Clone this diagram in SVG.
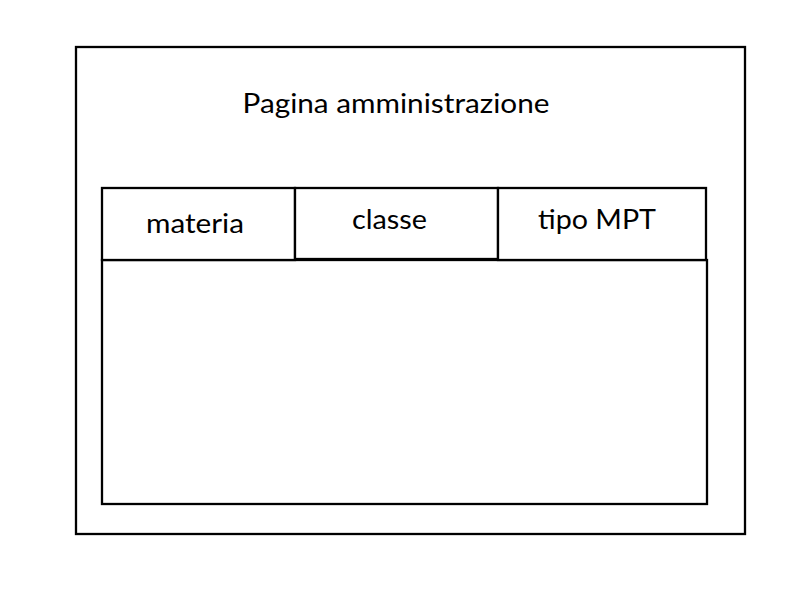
<svg xmlns="http://www.w3.org/2000/svg" width="800" height="600" viewBox="0 0 800 600">
  <style>
    .box { fill: #ffffff; stroke: #000000; stroke-width: 2.3; }
    .label { font-family: Lato, "Open Sans", "Liberation Sans", sans-serif; font-size: 27px; fill: #000000; text-anchor: middle; }
  </style>
  <rect x="0" y="0" width="800" height="600" fill="#ffffff"/>
  <g id="page">
    <rect class="box" x="76" y="47" width="669" height="487"/>
    <text class="label" x="396" y="113" textLength="307" lengthAdjust="spacingAndGlyphs">Pagina amministrazione</text>
  </g>
  <g id="table">
    <rect class="box" x="102" y="260" width="605" height="244"/>
  </g>
  <g id="col-materia">
    <rect class="box" x="102" y="188" width="193" height="72"/>
    <text class="label" x="195" y="233" textLength="98" lengthAdjust="spacingAndGlyphs">materia</text>
  </g>
  <g id="col-classe">
    <rect class="box" x="295" y="188" width="203" height="71"/>
    <text class="label" x="389.5" y="229" textLength="75" lengthAdjust="spacingAndGlyphs">classe</text>
  </g>
  <g id="col-tipo">
    <rect class="box" x="498" y="188" width="208" height="72"/>
    <text class="label" x="597" y="229" textLength="118" lengthAdjust="spacingAndGlyphs">tipo MPT</text>
  </g>
  <g id="connectors"/>
</svg>
